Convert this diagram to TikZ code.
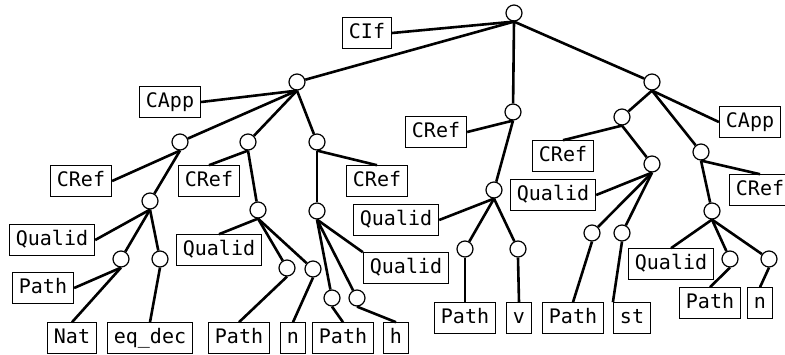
\documentclass[tikz,border=0pt]{standalone}
\usepackage{fontspec}
\setmonofont{DejaVu Sans Mono}
\usetikzlibrary{calc, positioning, arrows.meta}

\begin{document}
\begin{tikzpicture}[x=1pt, y=-1pt,
  knot/.style={draw, circle, line width=1.2pt, minimum size=16pt, inner sep=0pt, fill=white},
  ctor/.style={draw, line width=1.1pt, font=\fontsize{20}{24}\selectfont\ttfamily,
    inner xsep=6.5pt, inner ysep=6pt, text height=14.5pt, text depth=4pt},
  edge/.style={line width=2.6pt}]
\useasboundingbox (0,0) rectangle (785,354);

% top
\node[knot] (root) at (514,13) {};
\node[ctor] (cif) at (367,33) {CIf};
\draw[edge] (root.south) -- (cif.east);

% left branch
\node[knot] (l) at (297,82) {};
\node[ctor] (lapp) at (170,102) {CApp};
\node[knot] (la) at (180,142) {};
\node[knot] (lb) at (248,142) {};
\node[knot] (lc) at (317,142) {};
\draw[edge] (root.south) -- (l);
\draw[edge] (l.south) -- (lapp.east);
\draw[edge] (l.south) -- (la);
\draw[edge] (l.south) -- (lb);
\draw[edge] (l.south) -- (lc);

\node[ctor] (laref) at (81,181) {CRef};
\node[knot] (la2) at (150,201) {};
\node[ctor] (laqual) at (52,240) {Qualid};
\node[knot] (la3) at (121,259) {};
\node[knot] (la4) at (160,259) {};
\node[ctor] (lapath) at (43,288) {Path};
\node[ctor] (nat) at (72,338) {Nat};
\node[ctor] (eqdec) at (150,338) {eq\_dec};
\draw[edge] (la.south) -- (laref.east);
\draw[edge] (la.south) -- (la2);
\draw[edge] (la2.south) -- (laqual.east);
\draw[edge] (la2.south) -- (la3);
\draw[edge] (la2.south) -- (la4);
\draw[edge] (la3.south) -- (lapath.east);
\draw[edge] (la3.south) -- (nat.north);
\draw[edge] (la4.south) -- (eqdec.north);

\node[ctor] (lbref) at (209,181) {CRef};
\node[knot] (lb2) at (258,210) {};
\node[ctor] (lbqual) at (219,250) {Qualid};
\node[knot] (lb3) at (287,268) {};
\node[knot] (lb4) at (313,269) {};
\node[ctor] (lbpath) at (239,338) {Path};
\node[ctor] (lbn) at (293,338) {n};
\draw[edge] (lb.south) -- (lbref.north);
\draw[edge] (lb.south) -- (lb2);
\draw[edge] (lb2.south) -- (lbqual.north);
\draw[edge] (lb2.south) -- (lb3);
\draw[edge] (lb2.south) -- (lb4);
\draw[edge] (lb3.south) -- (lbpath.north);
\draw[edge] (lb4.south) -- (lbn.north);

\node[ctor] (lcref) at (377,181) {CRef};
\node[knot] (lc2) at (317,211) {};
\node[ctor] (lcqual) at (406,268) {Qualid};
\node[knot] (lc3) at (332,298) {};
\node[knot] (lc4) at (357,298) {};
\node[ctor] (lcpath) at (343,338) {Path};
\node[ctor] (lch) at (396,338) {h};
\draw[edge] (lc.south) -- (lcref.north);
\draw[edge] (lc.south) -- (lc2);
\draw[edge] (lc2.south) -- (lcqual.north west);
\draw[edge] (lc2.south) -- (lc3);
\draw[edge] (lc2.south) -- (lc4);
\draw[edge] (lc3.south) -- (lcpath.north);
\draw[edge] (lc4.south) -- (lch.north);

% middle branch
\node[knot] (m) at (513,112) {};
\node[ctor] (mref) at (436,132) {CRef};
\node[knot] (m2) at (494,190) {};
\node[ctor] (mqual) at (396,220) {Qualid};
\node[knot] (m3) at (465,249) {};
\node[knot] (m4) at (518,249) {};
\node[ctor] (mpath) at (465,318) {Path};
\node[ctor] (mv) at (519,318) {v};
\draw[edge] (root.south) -- (m);
\draw[edge] (m.south) -- (mref.east);
\draw[edge] (m.south) -- (m2);
\draw[edge] (m2.south) -- (mqual.east);
\draw[edge] (m2.south) -- (m3);
\draw[edge] (m2.south) -- (m4);
\draw[edge] (m3.south) -- (mpath.north);
\draw[edge] (m4.south) -- (mv.north);

% right branch
\node[knot] (r) at (652,82) {};
\node[ctor] (rapp) at (750,122) {CApp};
\node[knot] (ra) at (622,117) {};
\node[knot] (rb) at (701,152) {};
\draw[edge] (root.south) -- (r);
\draw[edge] (r.south) -- (rapp.west);
\draw[edge] (r.south) -- (ra);
\draw[edge] (r.south) -- (rb);

\node[ctor] (raref) at (563,156) {CRef};
\node[knot] (ra2) at (652,164) {};
\node[ctor] (raqual) at (553,195) {Qualid};
\node[knot] (ra3) at (592,233) {};
\node[knot] (ra4) at (622,233) {};
\node[ctor] (rapath) at (573,318) {Path};
\node[ctor] (rast) at (632,318) {st};
\draw[edge] (ra.south) -- (raref.north);
\draw[edge] (ra.south) -- (ra2);
\draw[edge] (ra2.south) -- (raqual.east);
\draw[edge] (ra2.south) -- (ra3);
\draw[edge] (ra2.south) -- (ra4);
\draw[edge] (ra3.south) -- (rapath.north);
\draw[edge] (ra4.south) -- (rast.north west);

\node[ctor] (rbref) at (760,190) {CRef};
\node[knot] (rb2) at (712,211) {};
\node[ctor] (rbqual) at (671,264) {Qualid};
\node[knot] (rb3) at (730,259) {};
\node[knot] (rb4) at (769,259) {};
\node[ctor] (rbpath) at (710,303) {Path};
\node[ctor] (rbn) at (760,303) {n};
\draw[edge] (rb.south) -- (rbref.north);
\draw[edge] (rb.south) -- (rb2);
\draw[edge] (rb2.south) -- (rbqual.north);
\draw[edge] (rb2.south) -- (rb3);
\draw[edge] (rb2.south) -- (rb4);
\draw[edge] (rb3.south) -- (rbpath.north);
\draw[edge] (rb4.south) -- (rbn.north);
\end{tikzpicture}
\end{document}
